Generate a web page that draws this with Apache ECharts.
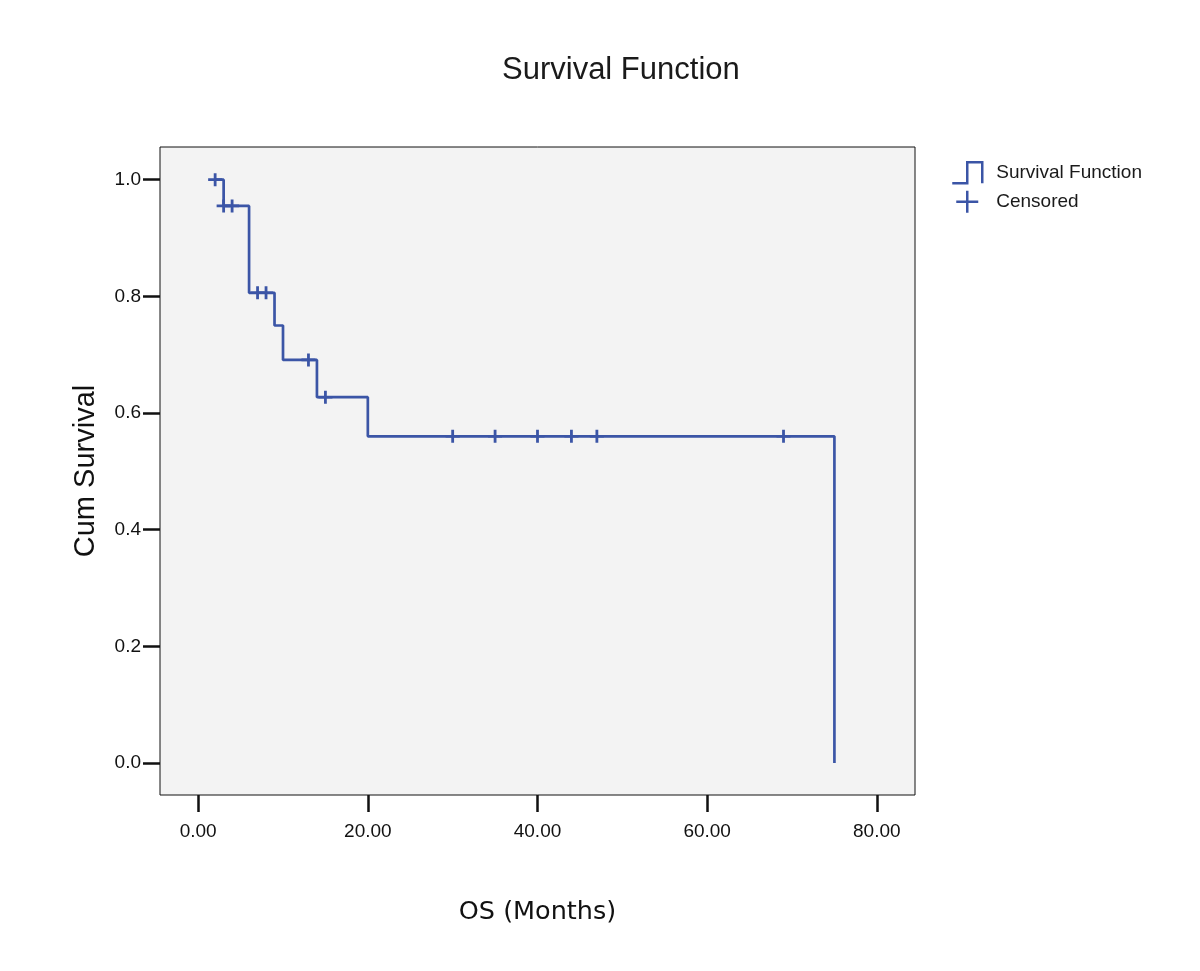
<!DOCTYPE html>
<html>
<head>
<meta charset="utf-8">
<script src="https://cdn.jsdelivr.net/npm/echarts@6/dist/echarts.min.js"></script>
<style>html,body{margin:0;padding:0;background:#fff;}#c{width:1200px;height:971px;}</style>
</head>
<body>
<div id="c"></div>
<script>
// Kaplan-Meier event steps (time in months, cumulative survival after the step)
const eventTimes = [2, 3, 6, 9, 10, 14, 20, 75];
const eventSurvival = [1.0, 0.955, 0.806, 0.750, 0.691, 0.627, 0.560, 0.0];
// Censored observations
const censoredTimes = [2, 3, 4, 7, 8, 13, 15, 30, 35, 40, 44, 47, 69];
const censoredSurvival = [1.0, 0.955, 0.955, 0.806, 0.806, 0.691, 0.627, 0.560, 0.560, 0.560, 0.560, 0.560, 0.560];
// Tick labels
const xTicks = [0, 20, 40, 60, 80];
const yTicks = [0, 0.2, 0.4, 0.6, 0.8, 1.0];

const BLUE = '#3b55a6';
const chart = echarts.init(document.getElementById('c'), null, {renderer: 'canvas'});
const stepData = eventTimes.map((t, i) => [t, eventSurvival[i]]);
const censData = censoredTimes.map((t, i) => [t, censoredSurvival[i]]);

chart.setOption({
  animation: false,
  backgroundColor: '#ffffff',
  title: {
    text: 'Survival Function',
    left: 497, top: 50,
    textStyle: {fontFamily: 'Liberation Sans', fontSize: 31, fontWeight: 'normal', color: '#1a1a1a'}
  },
  legend: {
    orient: 'vertical',
    left: 946, top: 156,
    itemWidth: 30, itemHeight: 22,
    itemGap: 5,
    selectedMode: false,
    textStyle: {fontFamily: 'Liberation Sans', fontSize: 19, color: '#1a1a1a', padding: [0, 0, 0, 9]},
    data: [
      {name: 'Survival Function', icon: 'path://M0,22 H15 V1 H30 V22',
       itemStyle: {color: 'transparent', borderColor: BLUE, borderWidth: 2.5, opacity: 1}},
      {name: 'Censored', icon: 'path://M0,0 M30,22 M4,11 H26 M15,0 V22',
       itemStyle: {color: 'transparent', borderColor: BLUE, borderWidth: 2.5, opacity: 1}}
    ]
  },
  grid: {
    left: 160, right: 285, top: 147, bottom: 176,
    show: true, backgroundColor: '#f3f3f3', borderColor: '#111', borderWidth: 1
  },
  xAxis: {
    type: 'value', min: -4.5, max: 84.5,
    name: 'OS (Months)', nameLocation: 'middle', nameGap: 104,
    nameTextStyle: {fontFamily: 'DejaVu Sans', fontSize: 25.5, color: '#111'},
    axisLine: {show: false, onZero: false},
    splitLine: {show: false},
    axisTick: {show: true, length: 17, customValues: xTicks, lineStyle: {color: '#111', width: 2.5}},
    axisLabel: {customValues: xTicks, margin: 27, fontFamily: 'Liberation Sans', fontSize: 19, color: '#111',
      formatter: v => v.toFixed(2)}
  },
  yAxis: {
    type: 'value', min: -0.055, max: 1.056,
    name: 'Cum Survival', nameLocation: 'middle', nameGap: 60, nameRotate: 90,
    nameTextStyle: {fontFamily: 'Liberation Sans', fontSize: 29, color: '#111'},
    axisLine: {show: false, onZero: false},
    splitLine: {show: false},
    axisTick: {show: true, length: 17, customValues: yTicks, lineStyle: {color: '#111', width: 2.5}},
    axisLabel: {customValues: yTicks, margin: 19, fontFamily: 'Liberation Sans', fontSize: 19, color: '#111',
      formatter: v => v.toFixed(1)}
  },
  series: [
    {
      name: 'Survival Function', type: 'line', step: 'end',
      data: stepData, showSymbol: false, symbol: 'none',
      lineStyle: {color: BLUE, width: 2.7}, itemStyle: {color: BLUE},
      emphasis: {disabled: true}, z: 2
    },
    {
      name: 'Censored', type: 'scatter',
      data: censData,
      symbol: 'path://M0,6.5 H14 M7,0 V13', symbolSize: [14, 13],
      itemStyle: {color: 'transparent', borderColor: BLUE, borderWidth: 2.7, opacity: 1},
      emphasis: {disabled: true}, z: 3
    }
  ]
});
</script>
</body>
</html>
